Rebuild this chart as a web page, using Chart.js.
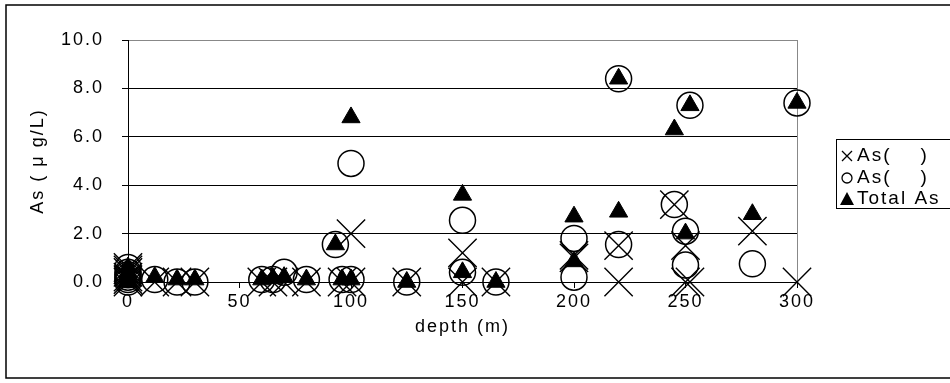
<!DOCTYPE html>
<html lang="en">
<head>
  <meta charset="UTF-8">
  <title>As vs depth</title>
  <style>
    html, body { margin: 0; padding: 0; background: #fff; }
    .wrapper { width: 950px; height: 383px; }
  </style>
</head>
<body>
  <div class="wrapper">
    <canvas id="asChart" width="950" height="383"></canvas>
  </div>

  <script src="https://cdn.jsdelivr.net/npm/chart.js"></script>
  <script>
    // values: depth (m) and As (ug/L) per series
    const crossDepth = [0, 0, 0, 0, 0, 0, 12, 22, 30, 60, 65, 70, 80, 96, 100, 100, 125, 150, 150, 165, 200, 200, 220, 220, 245, 250, 250, 252, 280, 300]
    const crossValue = [0, 0.1, 0.2, 0.4, 0.5, 0.6, 0, 0, 0, 0, 0, 0, 0, 0, 0, 2.0, 0, 1.2, 0, 0, 1.1, 1.0, 1.5, 0, 3.2, 1.5, 0, 0, 2.1, 0]

    const circleDepth = [0, 0, 0, 0, 0, 0, 12, 22, 30, 60, 65, 70, 80, 93, 96, 100, 100, 125, 150, 150, 165, 200, 200, 220, 220, 245, 250, 250, 252, 280, 300]
    const circleValue = [0, 0.1, 0.2, 0.3, 0.4, 0.6, 0.1, 0, 0, 0.1, 0.1, 0.4, 0.1, 1.55, 0.1, 0.1, 4.9, 0, 2.55, 0.4, 0, 1.8, 0.2, 8.4, 1.55, 3.2, 2.1, 0.7, 7.3, 0.75, 7.4]

    const triDepth = [0, 0, 0, 0, 0, 0, 12, 22, 30, 60, 65, 70, 80, 93, 96, 100, 100, 125, 150, 150, 165, 200, 200, 220, 220, 245, 250, 252, 280, 300]
    const triValue = [0, 0.1, 0.2, 0.3, 0.4, 0.6, 0.2, 0.1, 0.1, 0.1, 0.15, 0.2, 0.1, 1.55, 0.1, 0.1, 6.8, 0, 3.6, 0.4, 0, 2.7, 0.85, 8.4, 2.9, 6.3, 2.0, 7.3, 2.8, 7.4]

    const seriesLabels = ['As(    )', 'As(    )', 'Total As']
    const xTicks = [0, 50, 100, 150, 200, 250, 300]
    const yTicks = [0, 2, 4, 6, 8, 10]

    const FONT = 'Liberation Sans'
    const FSIZE = 18

    function toPoints(xs, ys) {
      return xs.map((x, i) => ({ x: x, y: ys[i] }))
    }

    // white page, loose letter spacing, outer frame and the boxed legend
    const frame = {
      id: 'frame',
      beforeDraw(chart) {
        const c = chart.ctx
        c.save()
        c.fillStyle = '#fff'
        c.fillRect(0, 0, chart.width, chart.height)
        c.restore()
        c.letterSpacing = '2px'
      },
      afterDraw(chart) {
        const c = chart.ctx
        c.save()
        c.strokeStyle = '#000'
        c.lineWidth = 1.5
        c.strokeRect(6, 5, 960, 373)

        c.lineWidth = 1
        c.strokeRect(836.5, 139.5, 130, 69)

        c.font = '19px ' + FONT
        c.fillStyle = '#000'
        c.textBaseline = 'middle'
        const rows = [156, 178, 199]
        const gx = 847
        // cross
        c.lineWidth = 1.3
        c.beginPath()
        c.moveTo(gx - 5, rows[0] - 5); c.lineTo(gx + 5, rows[0] + 5)
        c.moveTo(gx + 5, rows[0] - 5); c.lineTo(gx - 5, rows[0] + 5)
        c.stroke()
        // circle
        c.beginPath()
        c.arc(gx, rows[1], 5, 0, Math.PI * 2)
        c.stroke()
        // triangle
        c.beginPath()
        c.moveTo(gx, rows[2] - 7)
        c.lineTo(gx + 7, rows[2] + 6)
        c.lineTo(gx - 7, rows[2] + 6)
        c.closePath()
        c.fill()

        seriesLabels.forEach((t, i) => c.fillText(t, 857, rows[i]))
        c.restore()
      }
    }

    const config = {
      type: 'scatter',
      data: {
        datasets: [
          {
            label: seriesLabels[0],
            data: toPoints(crossDepth, crossValue),
            pointStyle: 'crossRot',
            radius: 20,
            borderColor: '#000',
            borderWidth: 1.4,
            backgroundColor: 'transparent',
            order: 3,
            clip: false
          },
          {
            label: seriesLabels[1],
            data: toPoints(circleDepth, circleValue),
            pointStyle: 'circle',
            radius: 13,
            borderColor: '#000',
            borderWidth: 1.5,
            backgroundColor: 'transparent',
            order: 2,
            clip: false
          },
          {
            label: seriesLabels[2],
            data: toPoints(triDepth, triValue),
            pointStyle: 'triangle',
            radius: 10.5,
            borderColor: '#000',
            borderWidth: 1,
            backgroundColor: '#000',
            order: 1,
            clip: false
          }
        ]
      },
      options: {
        responsive: false,
        animation: false,
        devicePixelRatio: 1,
        layout: { padding: { left: 0, right: 153, top: 40, bottom: 0 } },
        plugins: {
          legend: { display: false },
          tooltip: { enabled: false }
        },
        scales: {
          x: {
            type: 'linear',
            min: 0,
            max: 300,
            afterBuildTicks: (s) => { s.ticks = xTicks.map(v => ({ value: v })) },
            afterFit: (s) => { s.height = 101 },
            ticks: { color: '#000', padding: 3, font: { family: FONT, size: FSIZE } },
            grid: {
              color: (ctx) => ctx.tick && ctx.tick.value === 300 ? '#888' : 'rgba(0,0,0,0)',
              tickColor: '#000',
              tickLength: 6
            },
            border: { display: true, color: '#000', width: 1 },
            title: {
              display: true,
              text: 'depth (m)',
              color: '#000',
              font: { family: FONT, size: FSIZE },
              padding: { top: 0, bottom: 45 }
            }
          },
          y: {
            min: 0,
            max: 10,
            afterBuildTicks: (s) => { s.ticks = yTicks.map(v => ({ value: v })) },
            afterFit: (s) => { s.width = 128 },
            ticks: {
              color: '#000',
              padding: 18,
              font: { family: FONT, size: FSIZE },
              callback: (v) => Number(v).toFixed(1)
            },
            grid: {
              color: (ctx) => ctx.tick && ctx.tick.value === 10 ? '#888' : '#000',
              tickColor: '#000',
              tickLength: 6
            },
            border: { display: true, color: '#000', width: 1 },
            title: {
              display: true,
              text: 'As ( μ g/L)',
              color: '#000',
              font: { family: FONT, size: FSIZE },
              padding: { top: 27, bottom: 0 }
            }
          }
        }
      },
      plugins: [frame]
    }

    const asChart = new Chart(document.getElementById('asChart'), config)
  </script>
</body>
</html>
